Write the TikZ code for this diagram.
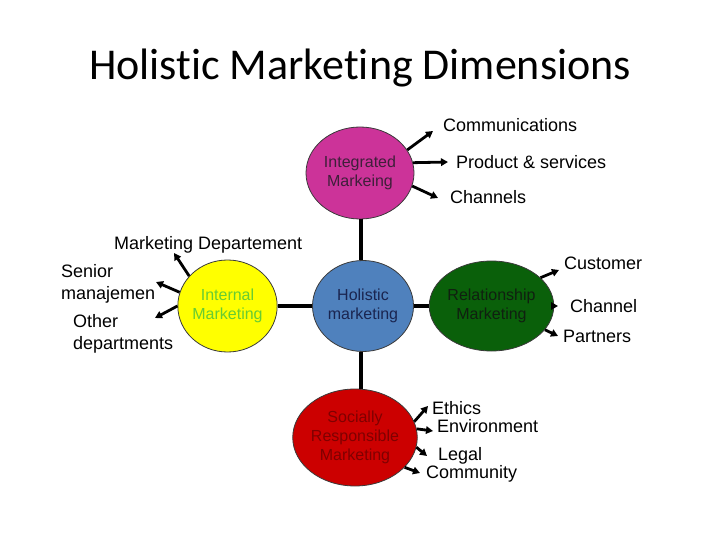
\documentclass[tikz,border=0pt]{standalone}
\usepackage{fontspec}
\setmainfont{Liberation Sans}
\newfontfamily\titlefont[Ligatures=NoCommon]{Carlito}
\usetikzlibrary{arrows.meta,shapes.geometric}
\definecolor{cInteg}{HTML}{CC3399}
\definecolor{cInt}{HTML}{FFFF00}
\definecolor{cHol}{HTML}{4F81BD}
\definecolor{cRel}{HTML}{0A600A}
\definecolor{cSoc}{HTML}{CC0000}
\definecolor{tInteg}{HTML}{3F1F3A}
\definecolor{tInt}{HTML}{66CC33}
\definecolor{tHol}{HTML}{1A2550}
\definecolor{tRel}{HTML}{102010}
\definecolor{tSoc}{HTML}{7F0000}
\definecolor{cBorder}{HTML}{3A3A3A}
\tikzset{
  bubble/.style={ellipse, draw=cBorder, line width=0.8pt, inner sep=0pt, align=center,
     font=\fontsize{16}{19}\selectfont},
  conn/.style={line width=3.4pt, black},
  arr/.style={line width=2.8pt, black, -{Triangle[length=7pt,width=7.5pt]}},
  lbl/.style={anchor=west, inner sep=0pt, align=left, font=\fontsize{18}{22}\selectfont},
}
\begin{document}
\begin{tikzpicture}[x=1pt,y=-1pt]
\useasboundingbox (0,0) rectangle (720,540);
% title
\node[font=\titlefont\fontsize{44}{50}\selectfont, inner sep=0pt] (title) at (360,68) {Holistic Marketing Dimensions};
% bubbles
\node[bubble, fill=cInteg, text=tInteg, minimum width=108pt, minimum height=92pt] (integ) at (360,173) {Integrated\\Markeing};
\node[bubble, fill=cInt, text=tInt, minimum width=93pt, minimum height=92pt] (int) at (227.5,306) {Internal\\Marketing};
\node[bubble, fill=cHol, text=tHol, minimum width=101pt, minimum height=91pt] (hol) at (363,306) {Holistic\\marketing};
\node[bubble, fill=cRel, text=tRel, minimum width=95pt, minimum height=90pt] (rel) at (491.5,306) {Relationship\\Marketing};
\node[bubble, fill=cSoc, text=tSoc, minimum width=98pt, minimum height=97pt] (soc) at (355,437.5) {Socially\\Responsible\\Marketing};
% connectors
\draw[conn] (hol.north -| 361,0) -- (integ.south -| 361,0);
\draw[conn] (hol.south -| 361,0) -- (soc.north -| 361,0);
\draw[conn] (int.east) -- (hol.west);
\draw[conn] (hol.east) -- (rel.west);
% labels
\node[lbl] (comm) at (443,125) {Communications};
\node[lbl] (prod) at (456,162) {Product \& services};
\node[lbl] (chan) at (450,197) {Channels};
\node[lbl] (mdep) at (114,245) {Marketing Departement};
\node[lbl] (senior) at (61,284) {Senior\\manajemen};
\node[lbl] (other) at (73,334) {Other\\departments};
\node[lbl] (cust) at (564,263) {Customer};
\node[lbl] (chan2) at (570,306) {Channel};
\node[lbl] (part) at (563,336) {Partners};
\node[lbl] (eth) at (432,408) {Ethics};
\node[lbl] (env) at (437,426) {Environment};
\node[lbl] (leg) at (438,456) {Legal};
\node[lbl] (comu) at (426,474) {Community};
% arrow tips
\coordinate (aComm) at (433,131);
\coordinate (aProd) at (448,162);
\coordinate (aChan) at (438,198);
\coordinate (aMdep) at (174,253);
\coordinate (aSen) at (156,282);
\coordinate (aOth) at (155,318);
\coordinate (aCust) at (559,270);
\coordinate (aChan2) at (558,306);
\coordinate (aPart) at (558,336);
\coordinate (aEth) at (428,406);
\coordinate (aEnv) at (433,431);
\coordinate (aLeg) at (427,456);
\coordinate (aComu) at (420,473);
% arrows
\draw[arr] (integ.26) -- (aComm);
\draw[arr] (integ.11) -- (aProd);
\draw[arr] (integ.-14) -- (aChan);
\draw[arr] (int.142) -- (aMdep);
\draw[arr] (int.164) -- (aSen);
\draw[arr] (int.180) -- (aOth);
\draw[arr] (rel.30) -- (aCust);
\draw[arr] (rel.0) -- (aChan2);
\draw[arr] (rel.-24) -- (aPart);
\draw[arr] (soc.15) -- (aEth);
\draw[arr] (soc.8) -- (aEnv);
\draw[arr] (soc.-9) -- (aLeg);
\draw[arr] (soc.-31) -- (aComu);
\end{tikzpicture}
\end{document}
